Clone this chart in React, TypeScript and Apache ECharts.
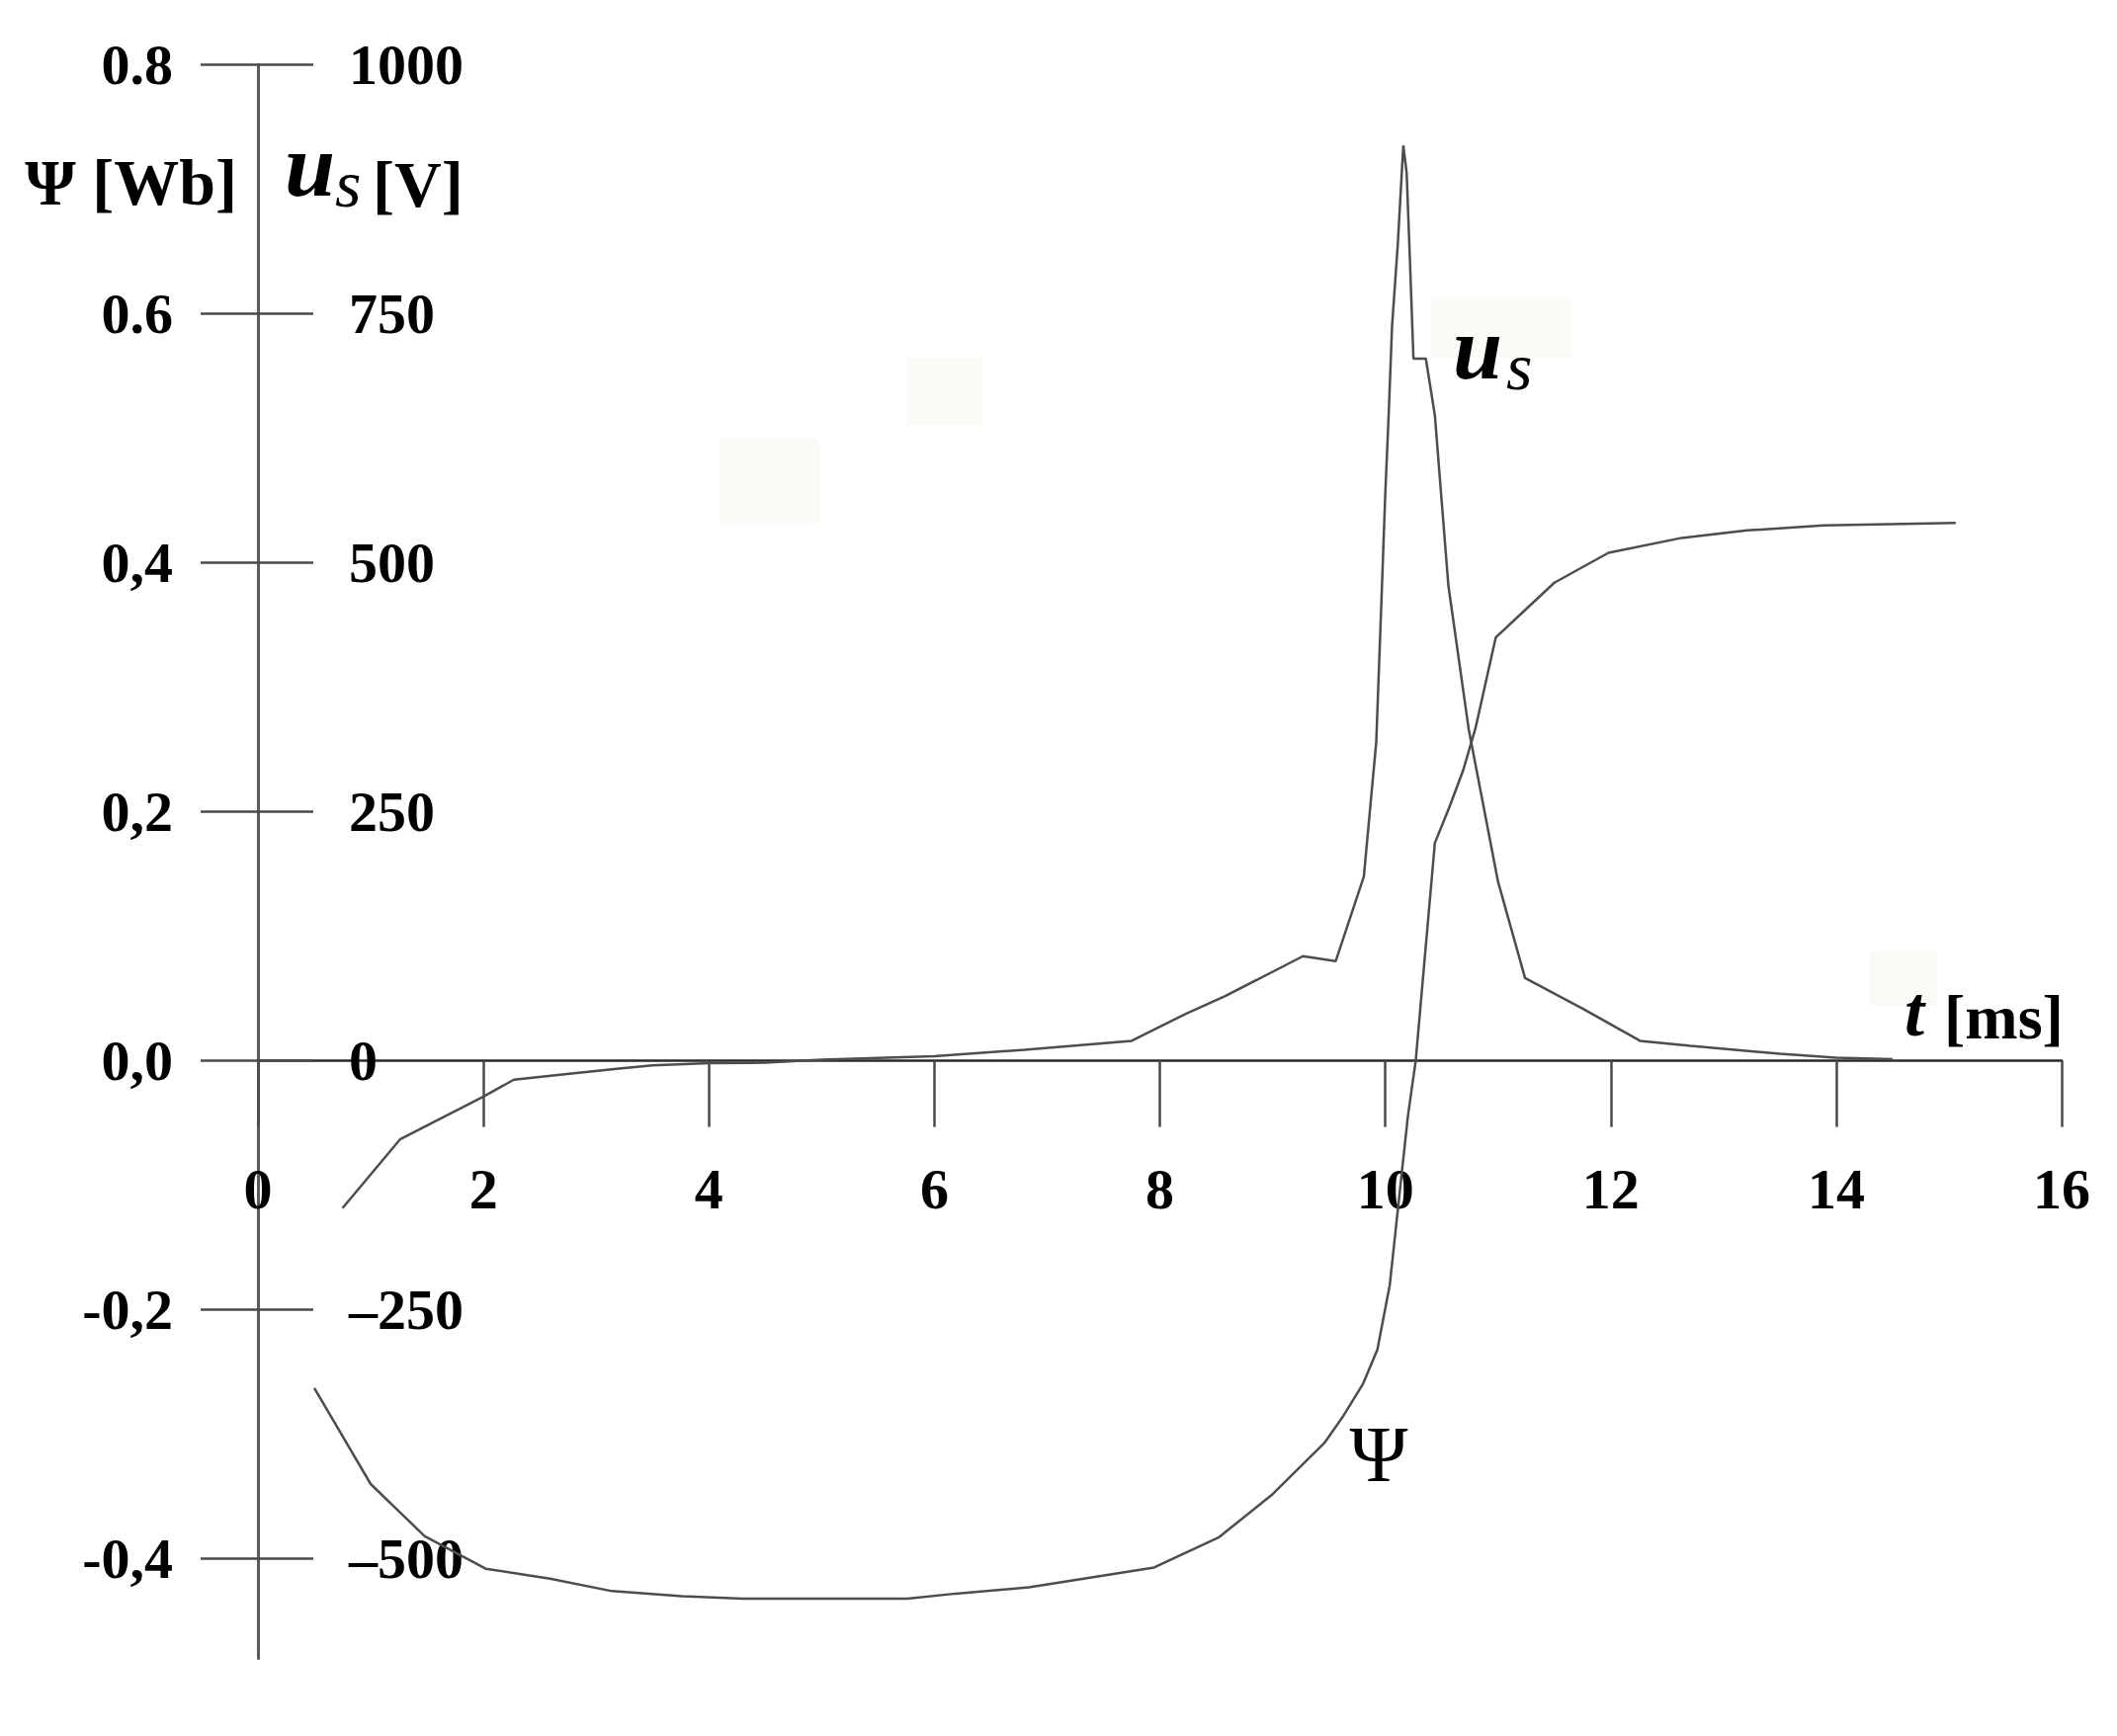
import React, { useEffect, useRef } from 'react';
import * as echarts from 'echarts';

// ---- data ----
const psiTime = [0.5, 1.0, 1.48, 2.02, 2.59, 3.14, 3.76, 4.3, 5.76, 6.19, 6.84, 7.95, 8.52, 8.99, 9.46, 9.63, 9.8, 9.93, 10.04, 10.2, 10.27, 10.44, 10.57, 10.69, 10.8, 10.98, 11.5, 11.98, 12.63, 13.21, 13.89, 15.06];
const psiValue = [-0.263, -0.34, -0.382, -0.408, -0.416, -0.426, -0.43, -0.432, -0.432, -0.428, -0.423, -0.407, -0.383, -0.349, -0.307, -0.285, -0.26, -0.232, -0.18, -0.045, 0.0, 0.175, 0.204, 0.233, 0.267, 0.34, 0.384, 0.408, 0.42, 0.426, 0.43, 0.432];

const usTime = [0.75, 1.26, 2.0, 2.27, 2.68, 3.18, 3.5, 4.0, 4.5, 5.0, 6.0, 6.8, 7.75, 8.23, 8.58, 9.27, 9.56, 9.81, 9.92, 9.97, 10.0, 10.03, 10.06, 10.11, 10.16, 10.19, 10.22, 10.25, 10.36, 10.44, 10.56, 10.74, 11.0, 11.24, 11.74, 12.26, 12.71, 13.5, 14.0, 14.5];
const usValue = [-148, -79, -36, -19, -14, -8, -4.6, -2.5, -2, 1, 4.5, 11, 20, 47, 65, 105, 100, 185, 320, 474, 569, 648, 737, 818, 919, 891, 800, 705, 705, 648, 477, 333, 180, 83, 53, 20, 15, 7, 3, 1.5];

const psiTicks = [-0.4, -0.2, 0, 0.2, 0.4, 0.6, 0.8];
const psiTickLabels = ['-0,4', '-0,2', '0,0', '0,2', '0,4', '0.6', '0.8'];
const usTicks = [-500, -250, 0, 250, 500, 750, 1000];
const usTickLabels = ['\u2013500', '\u2013250', '0', '250', '500', '750', '1000'];
const timeTickLabels = ['0', '2', '4', '6', '8', '10', '12', '14', '16'];

const W = 2142;
const H = 1757;
const FONT = "'Liberation Serif', 'Times New Roman', serif";

function lookup(ticks: number[], labels: string[], v: number): string {
  const i = ticks.findIndex((t) => Math.abs(t - v) < 1e-6);
  return i >= 0 ? labels[i] : '';
}

function txt(x: number, y: number, text: string, font: string, align: string, extra: any = {}) {
  return {
    type: 'text',
    x,
    y,
    z: 10,
    silent: true,
    style: {
      text,
      font,
      fill: '#000',
      align,
      textAlign: align,
      verticalAlign: 'middle',
      textVerticalAlign: 'middle',
      ...extra,
    },
  };
}

function faint(x: number, y: number, w: number, h: number) {
  return {
    type: 'rect',
    z: 0,
    silent: true,
    shape: { x, y, width: w, height: h },
    style: { fill: '#fbfaf6' },
  };
}

export default function App() {
  const ref = useRef<HTMLDivElement>(null);

  useEffect(() => {
    document.body.style.margin = '0';
    if (!ref.current) return;
    const chart = echarts.init(ref.current, undefined, { renderer: 'svg' });

    const psiData = psiTime.map((t, i) => [t, psiValue[i]]);
    const usData = usTime.map((t, i) => [t, usValue[i]]);

    const tickLine = { color: '#4a4a4a', width: 2.5 };
    const labelStyle = {
      color: '#000',
      fontFamily: FONT,
      fontWeight: 'bold',
      fontSize: 58,
    };

    const option: any = {
      animation: false,
      backgroundColor: '#ffffff',
      grid: [
        { left: 261, right: 56, top: 65.6, bottom: 78.6, outerBoundsMode: 'none' },
        { left: 261, right: 56, top: 65.6, bottom: H - 1073.6, outerBoundsMode: 'none' },
      ],
      xAxis: [
        { type: 'value', gridIndex: 0, min: 0, max: 16, show: false },
        {
          type: 'value',
          gridIndex: 1,
          min: 0,
          max: 16,
          interval: 2,
          position: 'bottom',
          axisLine: { show: true, onZero: false, lineStyle: { color: '#2a2a2a', width: 2.5 } },
          axisTick: { show: true, length: 67, lineStyle: tickLine },
          axisLabel: {
            ...labelStyle,
            margin: 130,
            verticalAlign: 'middle',
            formatter: (v: number) => timeTickLabels[Math.round(v / 2)] ?? '',
          },
          splitLine: { show: false },
        },
      ],
      yAxis: [
        {
          type: 'value',
          gridIndex: 0,
          min: -0.48,
          max: 0.8,
          position: 'left',
          axisLine: { show: true, onZero: false, lineStyle: { color: '#5a5a5a', width: 3 } },
          axisTick: { show: true, length: 58, customValues: psiTicks, lineStyle: tickLine },
          axisLabel: {
            ...labelStyle,
            customValues: psiTicks,
            margin: 86,
            formatter: (v: number) => lookup(psiTicks, psiTickLabels, v),
          },
          splitLine: { show: false },
        },
        {
          type: 'value',
          gridIndex: 0,
          min: -600,
          max: 1000,
          position: 'left',
          axisLine: { show: false, onZero: false },
          axisTick: { show: true, inside: true, length: 56, customValues: usTicks, lineStyle: tickLine },
          axisLabel: {
            ...labelStyle,
            inside: true,
            customValues: usTicks,
            margin: 92,
            formatter: (v: number) => lookup(usTicks, usTickLabels, v),
          },
          splitLine: { show: false },
        },
        { type: 'value', gridIndex: 1, min: 0, max: 1, show: false },
      ],
      series: [
        {
          name: 'Ψ',
          type: 'line',
          xAxisIndex: 0,
          yAxisIndex: 0,
          data: psiData,
          symbol: 'none',
          showSymbol: false,
          silent: true,
          lineStyle: { color: '#4d4d4d', width: 2.5 },
        },
        {
          name: 'us',
          type: 'line',
          xAxisIndex: 0,
          yAxisIndex: 1,
          data: usData,
          symbol: 'none',
          showSymbol: false,
          silent: true,
          lineStyle: { color: '#4d4d4d', width: 2.5 },
        },
      ],
      graphic: [
        faint(728, 444, 101, 85),
        faint(918, 362, 76, 68),
        faint(1448, 303, 143, 59),
        faint(1892, 963, 68, 55),
        // axis titles
        txt(240, 184, 'Ψ [Wb]', `bold 66px ${FONT}`, 'right'),
        txt(288, 167, 'u', `italic bold 92px ${FONT}`, 'left'),
        txt(339, 186, 's', `italic 68px ${FONT}`, 'left'),
        txt(377, 186, '[V]', `bold 66px ${FONT}`, 'left'),
        // curve labels
        txt(1470, 352, 'u', `italic bold 90px ${FONT}`, 'left'),
        txt(1524, 371, 's', `italic 68px ${FONT}`, 'left'),
        txt(1395, 1472, 'Ψ', `80px ${FONT}`, 'center'),
        txt(1927, 1024, 't', `italic bold 72px ${FONT}`, 'left'),
        txt(1967, 1029, '[ms]', `bold 64px ${FONT}`, 'left'),
      ],
    };

    chart.setOption(option);
    return () => {
      chart.dispose();
    };
  }, []);

  return <div ref={ref} style={{ width: W, height: H, background: '#fff' }} />;
}
